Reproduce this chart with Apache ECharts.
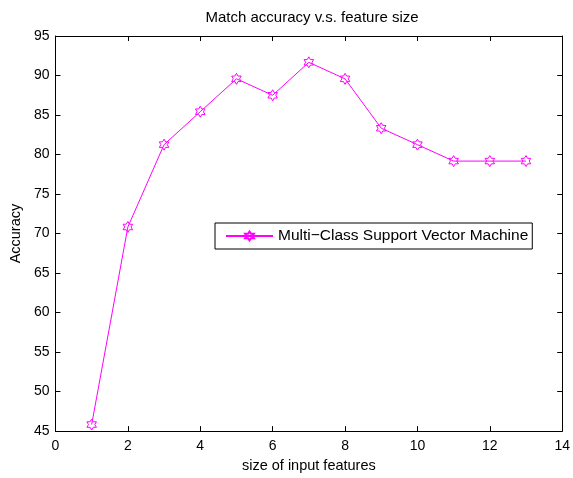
<!DOCTYPE html>
<html>
<head>
<meta charset="utf-8">
<script src="https://cdn.jsdelivr.net/npm/echarts@6/dist/echarts.min.js"></script>
<style>html,body{margin:0;padding:0;background:#fff;overflow:hidden;}#c{width:573px;height:478px;}</style>
</head>
<body>
<div id="c"></div>
<script>
const featureSizes = [1, 2, 3, 4, 5, 6, 7, 8, 9, 10, 11, 12, 13];
const accuracy = [45.83, 70.83, 81.25, 85.42, 89.58, 87.5, 91.67, 89.58, 83.33, 81.25, 79.17, 79.17, 79.17];
const seriesName = 'Multi\u2212Class Support Vector Machine';
const titleText = 'Match accuracy v.s. feature size';
const xName = 'size of input features';
const yName = 'Accuracy';

const FONT = "'Liberation Sans', Arial, sans-serif";
const hexagram = 'path://M50 0 L64.43 25 L93.3 25 L78.87 50 L93.3 75 L64.43 75 L50 100 L35.57 75 L6.7 75 L21.13 50 L6.7 25 L35.57 25 Z';

const chart = echarts.init(document.getElementById('c'), null, {renderer: 'canvas', width: 573, height: 478});
const axisCommon = {
  axisLine: {show: true, onZero: false, lineStyle: {color: '#000', width: 1}},
  axisTick: {show: true, inside: true, length: 5, lineStyle: {color: '#000', width: 1}},
  splitLine: {show: false},
  axisLabel: {color: '#000', fontFamily: FONT, fontSize: 14}
};
chart.setOption({
  animation: false,
  backgroundColor: '#fff',
  title: {
    text: titleText, left: 312, top: 10, textAlign: 'center', padding: 0,
    textStyle: {fontFamily: FONT, fontSize: 15, fontWeight: 'normal', color: '#000'}
  },
  grid: {left: 55, right: 8, top: 36, bottom: 41, containLabel: false},
  legend: {
    data: [seriesName], left: 215, top: 223, orient: 'horizontal',
    backgroundColor: '#fff', borderColor: '#000', borderWidth: 1,
    padding: [5, 4, 5, 10], itemWidth: 47, itemHeight: 11, itemGap: 0,
    textStyle: {fontFamily: FONT, fontSize: 15.5, color: '#000'}
  },
  xAxis: [
    Object.assign({}, axisCommon, {
      type: 'value', min: 0, max: 14, interval: 2, position: 'bottom',
      name: xName, nameLocation: 'middle', nameGap: 25,
      nameTextStyle: {fontFamily: FONT, fontSize: 14.5, color: '#000'},
      axisLabel: Object.assign({}, axisCommon.axisLabel, {margin: 8})
    }),
    Object.assign({}, axisCommon, {
      type: 'value', min: 0, max: 14, interval: 2, position: 'top',
      axisLabel: {show: false}
    })
  ],
  yAxis: [
    Object.assign({}, axisCommon, {
      type: 'value', min: 45, max: 95, interval: 5, position: 'left',
      name: yName, nameLocation: 'middle', nameGap: 30, nameRotate: 90,
      nameTextStyle: {fontFamily: FONT, fontSize: 14.5, color: '#000'},
      axisLabel: Object.assign({}, axisCommon.axisLabel, {margin: 6})
    }),
    Object.assign({}, axisCommon, {
      type: 'value', min: 45, max: 95, interval: 5, position: 'right',
      axisLabel: {show: false}
    })
  ],
  series: [{
    name: seriesName,
    type: 'line',
    xAxisIndex: 0, yAxisIndex: 0,
    data: featureSizes.map((x, i) => [x, accuracy[i]]),
    symbol: hexagram, symbolSize: 11, symbolKeepAspect: true,
    showAllSymbol: true,
    lineStyle: {color: '#ff00ff', width: 1},
    itemStyle: {color: 'rgba(0,0,0,0)', borderColor: '#ff00ff', borderWidth: 1},
    emphasis: {disabled: true}
  }]
});
</script>
</body>
</html>
